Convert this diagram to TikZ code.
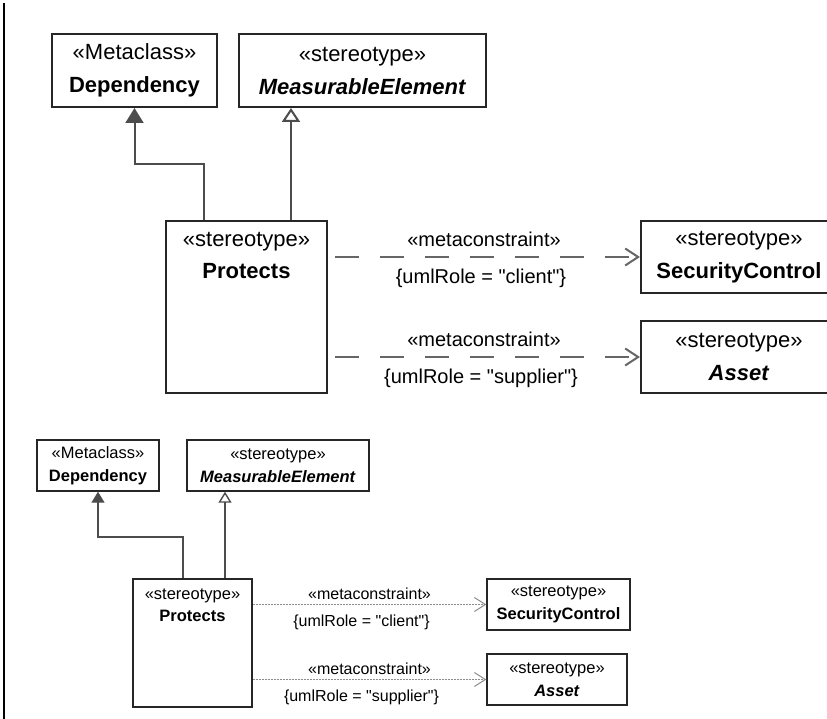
\documentclass[tikz,border=0pt]{standalone}
\usepackage{fontspec}
\setmainfont[Ligatures=TeXOff]{Liberation Sans}
\usetikzlibrary{arrows.meta,calc}

\begin{document}
\begin{tikzpicture}[x=1pt, y=-1pt,
  bigbox/.style={draw=black!85, line width=2pt, fill=white, align=center, inner sep=0pt, font=\fontsize{22}{33}\selectfont},
  smallbox/.style={draw=black!85, line width=1.4pt, fill=white, align=center, inner sep=0pt, font=\fontsize{16.5}{22.5}\selectfont},
  bigtext/.style={align=center, inner sep=0pt, font=\fontsize{22}{32}\selectfont},
  smalltext/.style={align=center, inner sep=0pt, font=\fontsize{16.5}{22}\selectfont},
  biglabel/.style={inner sep=0pt, font=\fontsize{20}{24}\selectfont},
  smalllabel/.style={inner sep=0pt, font=\fontsize{16}{19}\selectfont},
  biggen/.style={draw=black!70, line width=2pt},
  smallgen/.style={draw=black!70, line width=1.4pt},
  bigdep/.style={draw=black!60, line width=2pt, dash pattern=on 24pt off 21pt, dash phase=38pt, -{Straight Barb[length=13pt,width=17pt]}},
  smalldep/.style={draw=black!45, line width=1pt, dash pattern=on 2pt off 1pt, -{Straight Barb[length=11pt,width=14pt]}}
]
\useasboundingbox (0,0) rectangle (827,719);
\clip (0,0) rectangle (827,719);
\draw[line width=2.5pt] (4,3) -- (4,719);

% top
\node[bigbox, minimum width=165, minimum height=73] (depT) at (134.5,70.5) {«Metaclass»\\\textbf{Dependency}};
\node[bigbox, minimum width=247, minimum height=73] (meaT) at (362.5,70.5) {«stereotype»\\\textbf{\textit{MeasurableElement}}};
\node[bigbox, minimum width=161, minimum height=172] (proT) at (246.5,307) {};
\node[bigtext] (proTname) at ($(proT.north)+(0,35)$) {«stereotype»\\\textbf{Protects}};
\node[bigbox, minimum width=196, minimum height=72] (secT) at (739,257) {«stereotype»\\\textbf{SecurityControl}};
\node[bigbox, minimum width=196, minimum height=72] (assT) at (739,357) {«stereotype»\\\textbf{\textit{Asset}}};

\coordinate (bendT) at (204,164);
\coordinate (genT) at (291,0);
\draw[biggen, -{Triangle[width=18pt,length=15pt]}] (proT.north -| bendT) -- (bendT) -| (depT.south);
\draw[biggen, -{Triangle[open,width=18pt,length=14pt]}] (proT.north -| genT) -- (meaT.south -| genT);

\draw[bigdep] (proT.east |- secT.west) -- (secT.west)
  node[biglabel, midway, above=9pt] (mcT1) {«metaconstraint»}
  node[biglabel, midway, below=11pt, xshift=-3pt] (roleT1) {\{umlRole = "client"\}};
\draw[bigdep] (proT.east |- assT.west) -- (assT.west)
  node[biglabel, midway, above=9pt] (mcT2) {«metaconstraint»}
  node[biglabel, midway, below=11pt, xshift=-3pt] (roleT2) {\{umlRole = "supplier"\}};

% bottom
\node[smallbox, minimum width=122, minimum height=51] (depB) at (98,465.5) {«Metaclass»\\\textbf{Dependency}};
\node[smallbox, minimum width=182, minimum height=51] (meaB) at (278,465.5) {«stereotype»\\\textbf{\textit{MeasurableElement}}};
\node[smallbox, minimum width=119, minimum height=128] (proB) at (192.5,643) {};
\node[smalltext] (proBname) at ($(proB.north)+(0,27)$) {«stereotype»\\\textbf{Protects}};
\node[smallbox, minimum width=143, minimum height=51] (secB) at (558.5,604.5) {«stereotype»\\\textbf{SecurityControl}};
\node[smallbox, minimum width=140, minimum height=51] (assB) at (557,679.5) {«stereotype»\\\textbf{\textit{Asset}}};

\coordinate (bendB) at (183,537);
\coordinate (genB) at (225,0);
\draw[smallgen, -{Triangle[width=13pt,length=11pt]}] (proB.north -| bendB) -- (bendB) -| (depB.south);
\draw[smallgen, -{Triangle[open,width=13pt,length=11pt]}] (proB.north -| genB) -- (meaB.south -| genB);

\draw[smalldep] (proB.east |- secB.west) -- (secB.west)
  node[smalllabel, midway, above=4pt] (mcB1) {«metaconstraint»}
  node[smalllabel, midway, below=10pt, xshift=-8pt] (roleB1) {\{umlRole = "client"\}};
\draw[smalldep] (proB.east |- assB.west) -- (assB.west)
  node[smalllabel, midway, above=4pt] (mcB2) {«metaconstraint»}
  node[smalllabel, midway, below=10pt, xshift=-8pt] (roleB2) {\{umlRole = "supplier"\}};
\end{tikzpicture}
\end{document}
